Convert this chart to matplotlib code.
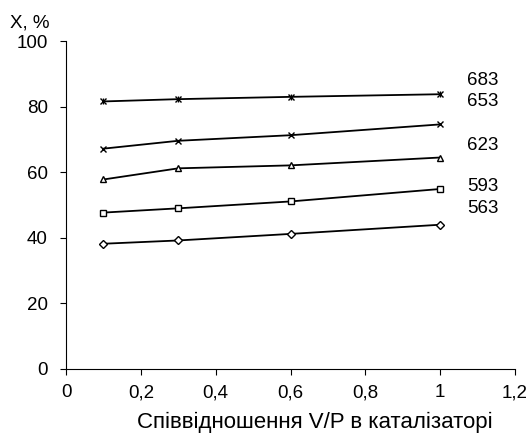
import matplotlib.pyplot as plt

plt.rcParams['font.family'] = ['Liberation Sans', 'DejaVu Sans']

ratio = [0.1, 0.3, 0.6, 1.0]
x_683 = [81.6, 82.3, 83.0, 83.8]
x_653 = [67.2, 69.6, 71.3, 74.6]
x_623 = [57.8, 61.2, 62.1, 64.5]
x_593 = [47.7, 49.0, 51.1, 54.9]
x_563 = [38.2, 39.2, 41.2, 44.0]

temps = ['683', '653', '623', '593', '563']
label_y = [88.0, 81.6, 68.3, 55.6, 48.9]
markers = ['x', 'x', '^', 's', 'D']
values = [x_683, x_653, x_623, x_593, x_563]

fig = plt.figure(figsize=(5.31, 4.36), dpi=100)
ax = fig.add_axes([0.1243, 0.1537, 0.8456, 0.752])

for name, vals, mk, ly in zip(temps, values, markers, label_y):
    filled = mk == 'x'
    ax.plot(ratio, vals, color='black', lw=1.3, marker=mk,
            ms=4 if mk == 'D' else 5,
            mfc='black' if filled else 'white', mec='black', mew=1.0)
    if name == '683':
        # excel-style asterisk: x with a vertical bar
        ax.plot(ratio, vals, lw=0, marker='|', ms=5, color='black', mew=1.0)
    ax.text(1.072, ly, name, fontsize=13.5, va='center', ha='left')

ax.set_xlim(0, 1.2)
ax.set_ylim(0, 100)
ax.set_xticks([0, 0.2, 0.4, 0.6, 0.8, 1.0, 1.2])
ax.set_xticklabels(['0', '0,2', '0,4', '0,6', '0,8', '1', '1,2'])
ax.set_yticks([0, 20, 40, 60, 80, 100])
ax.tick_params(labelsize=13.5, direction='out', length=4, width=0.8)
ax.tick_params(axis='x', pad=7)
ax.tick_params(axis='y', pad=9)
for s in ['top', 'right']:
    ax.spines[s].set_visible(False)
for s in ['left', 'bottom']:
    ax.spines[s].set_linewidth(0.8)

fig.text(0.593, 0.018, 'Співвідношення V/P в каталізаторі', fontsize=16,
         ha='center', va='baseline')
fig.text(0.019, 0.938, 'X, %', fontsize=13.5, ha='left', va='baseline')

plt.savefig('out.png', dpi=100)
